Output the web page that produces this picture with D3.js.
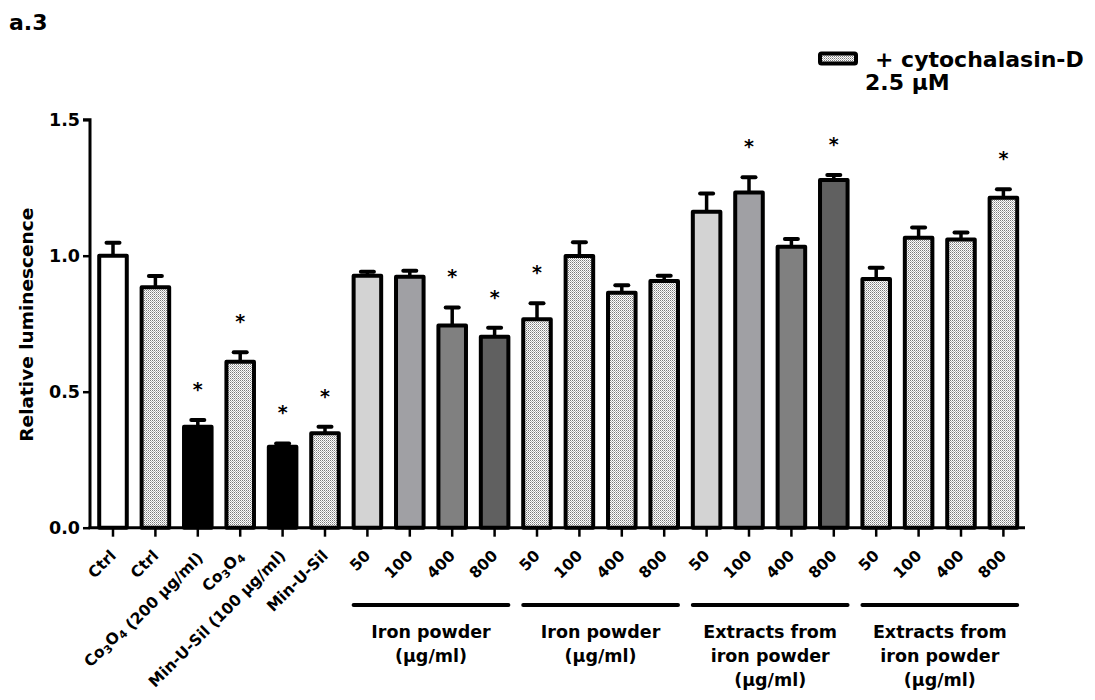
<!DOCTYPE html>
<html>
<head>
<meta charset="utf-8">
<script src="https://cdn.jsdelivr.net/npm/d3@7"></script>
<style>
  html, body { margin: 0; padding: 0; background: #fff; }
  svg { display: block; font-family: "DejaVu Sans", sans-serif; font-weight: bold; }
</style>
</head>
<body>
<svg id="chart" width="1095" height="700"></svg>
<script>
// ---------- data ----------
const categories = ["Ctrl", "Ctrl", "Co3O4 (200 μg/ml)", "Co3O4", "Min-U-Sil (100 μg/ml)", "Min-U-Sil",
  "50", "100", "400", "800", "50", "100", "400", "800",
  "50", "100", "400", "800", "50", "100", "400", "800"];
const values = [1.000, 0.884, 0.371, 0.610, 0.298, 0.347,
  0.926, 0.923, 0.743, 0.702, 0.766, 0.999, 0.864, 0.907,
  1.162, 1.232, 1.033, 1.278, 0.914, 1.066, 1.060, 1.213];
const errors = [0.048, 0.041, 0.025, 0.035, 0.012, 0.024,
  0.015, 0.022, 0.067, 0.033, 0.059, 0.050, 0.027, 0.019,
  0.067, 0.056, 0.028, 0.019, 0.042, 0.038, 0.025, 0.031];
const fills = ["#ffffff", "dots", "#000000", "dots", "#000000", "dots",
  "#d3d3d3", "#a0a0a4", "#808080", "#606060", "dots", "dots", "dots", "dots",
  "#d3d3d3", "#a0a0a4", "#808080", "#606060", "dots", "dots", "dots", "dots"];
const significant = [0, 0, 1, 1, 1, 1, 0, 0, 1, 1, 1, 0, 0, 0, 0, 1, 0, 1, 0, 0, 0, 1];
const yTicks = [0.0, 0.5, 1.0, 1.5];
const groups = [
  { from: 6, to: 9, lines: ["Iron powder", "(μg/ml)"] },
  { from: 10, to: 13, lines: ["Iron powder", "(μg/ml)"] },
  { from: 14, to: 17, lines: ["Extracts from", "iron powder", "(μg/ml)"] },
  { from: 18, to: 21, lines: ["Extracts from", "iron powder", "(μg/ml)"] }
];
const panelLabel = "a.3";
const legendLines = ["+ cytochalasin-D", "2.5 μM"];
const yTitle = "Relative luminescence";

// ---------- setup ----------
const svg = d3.select("#chart");
const defs = svg.append("defs");
const pat = defs.append("pattern").attr("id", "dots")
  .attr("patternUnits", "userSpaceOnUse").attr("width", 2).attr("height", 2);
pat.append("rect").attr("width", 2).attr("height", 2).attr("fill", "#ffffff");
pat.append("rect").attr("x", 0).attr("y", 0).attr("width", 1).attr("height", 1).attr("fill", "#7a7a7a");
pat.append("rect").attr("x", 1).attr("y", 1).attr("width", 1).attr("height", 1).attr("fill", "#b4b4b4");
const fillOf = f => f === "dots" ? "url(#dots)" : f;

const idx = d3.range(categories.length);
const x = d3.scaleBand().domain(idx).range([91.8, 1024.6]).paddingInner(0.35).paddingOuter(0.175);
const y = d3.scaleLinear().domain([0, 1.5]).range([527.7, 119.7]);

// ---------- bars ----------
const g = svg.append("g");
g.selectAll("rect.bar").data(idx).join("rect")
  .attr("class", "bar")
  .attr("x", i => x(i))
  .attr("y", i => y(values[i]))
  .attr("width", x.bandwidth())
  .attr("height", i => y(0) - y(values[i]))
  .attr("fill", i => fillOf(fills[i]))
  .attr("stroke", "#000").attr("stroke-width", 4).attr("stroke-linejoin", "round");

// error bars
const cx = i => x(i) + x.bandwidth() / 2;
g.selectAll("line.stem").data(idx).join("line")
  .attr("x1", cx).attr("x2", cx)
  .attr("y1", i => y(values[i])).attr("y2", i => y(values[i] + errors[i]))
  .attr("stroke", "#000").attr("stroke-width", 3.5);
g.selectAll("line.cap").data(idx).join("line")
  .attr("x1", i => cx(i) - 6.5).attr("x2", i => cx(i) + 6.5)
  .attr("y1", i => y(values[i] + errors[i])).attr("y2", i => y(values[i] + errors[i]))
  .attr("stroke", "#000").attr("stroke-width", 4).attr("stroke-linecap", "round");

// asterisks
g.selectAll("text.star").data(idx.filter(i => significant[i])).join("text")
  .attr("x", cx).attr("y", i => y(values[i] + errors[i]) - 24)
  .attr("text-anchor", "middle").attr("font-size", 19).text("*");

// ---------- axes ----------
const yAxis = svg.append("g").attr("transform", "translate(90,0)")
  .call(d3.axisLeft(y).tickValues(yTicks).tickFormat(d3.format(".1f")).tickSize(7).tickPadding(3));
yAxis.select(".domain").attr("stroke-width", 3).attr("d", `M-7,${y(1.5)}H0V${y(0)}`);
yAxis.selectAll(".tick line").attr("stroke-width", 2.5);
yAxis.selectAll(".tick text").attr("font-size", 17.5).attr("font-weight", "bold")
  .attr("font-family", "DejaVu Sans").attr("fill", "#000");

const xAxis = svg.append("g").attr("transform", `translate(0,${y(0)})`)
  .call(d3.axisBottom(x).tickSize(9).tickFormat(""));
xAxis.select(".domain").attr("stroke-width", 3).attr("d", `M88.5,0H1025`);
xAxis.selectAll(".tick line").attr("stroke-width", 2.5);

// x tick labels (rotated)
const lab = svg.append("g").attr("font-size", 15.5);
idx.forEach(i => {
  const t = lab.append("text")
    .attr("text-anchor", "end")
    .attr("transform", `translate(${cx(i) + 4},${y(0) + 29}) rotate(-45)`);
  const s = categories[i];
  const parts = s.split(/(Co3O4)/);
  parts.forEach(p => {
    if (p === "Co3O4") {
      t.append("tspan").text("Co");
      t.append("tspan").attr("font-size", 11).attr("dy", 3).text("3");
      t.append("tspan").attr("dy", -3).text("O");
      t.append("tspan").attr("font-size", 11).attr("dy", 3).text("4");
      t.append("tspan").attr("dy", -3).text("");
    } else if (p.length) {
      t.append("tspan").text(p);
    }
  });
});

// group lines and labels
const gl = svg.append("g");
groups.forEach(gr => {
  const x1 = x(gr.from), x2 = x(gr.to) + x.bandwidth();
  gl.append("line").attr("x1", x1).attr("x2", x2).attr("y1", 605).attr("y2", 605)
    .attr("stroke", "#000").attr("stroke-width", 4).attr("stroke-linecap", "round");
  const t = gl.append("text").attr("text-anchor", "middle").attr("font-size", 17.5);
  gr.lines.forEach((ln, k) => {
    t.append("tspan").attr("x", (x1 + x2) / 2).attr("y", 638 + k * 24).text(ln);
  });
});

// y title
svg.append("text").attr("transform", `translate(33,${(y(0) + y(1.5)) / 2 + 1}) rotate(-90)`)
  .attr("text-anchor", "middle").attr("font-size", 18.5).text(yTitle);

// panel label
svg.append("text").attr("x", 9).attr("y", 30).attr("font-size", 22).text(panelLabel);

// legend
svg.append("rect").attr("x", 820).attr("y", 53.5).attr("width", 36).attr("height", 10)
  .attr("rx", 1.5).attr("fill", "url(#dots)").attr("stroke", "#000").attr("stroke-width", 4);
svg.append("text").attr("x", 875).attr("y", 67).attr("font-size", 22).text(legendLines[0]);
svg.append("text").attr("x", 865).attr("y", 90).attr("font-size", 22).text(legendLines[1]);
</script>
</body>
</html>
